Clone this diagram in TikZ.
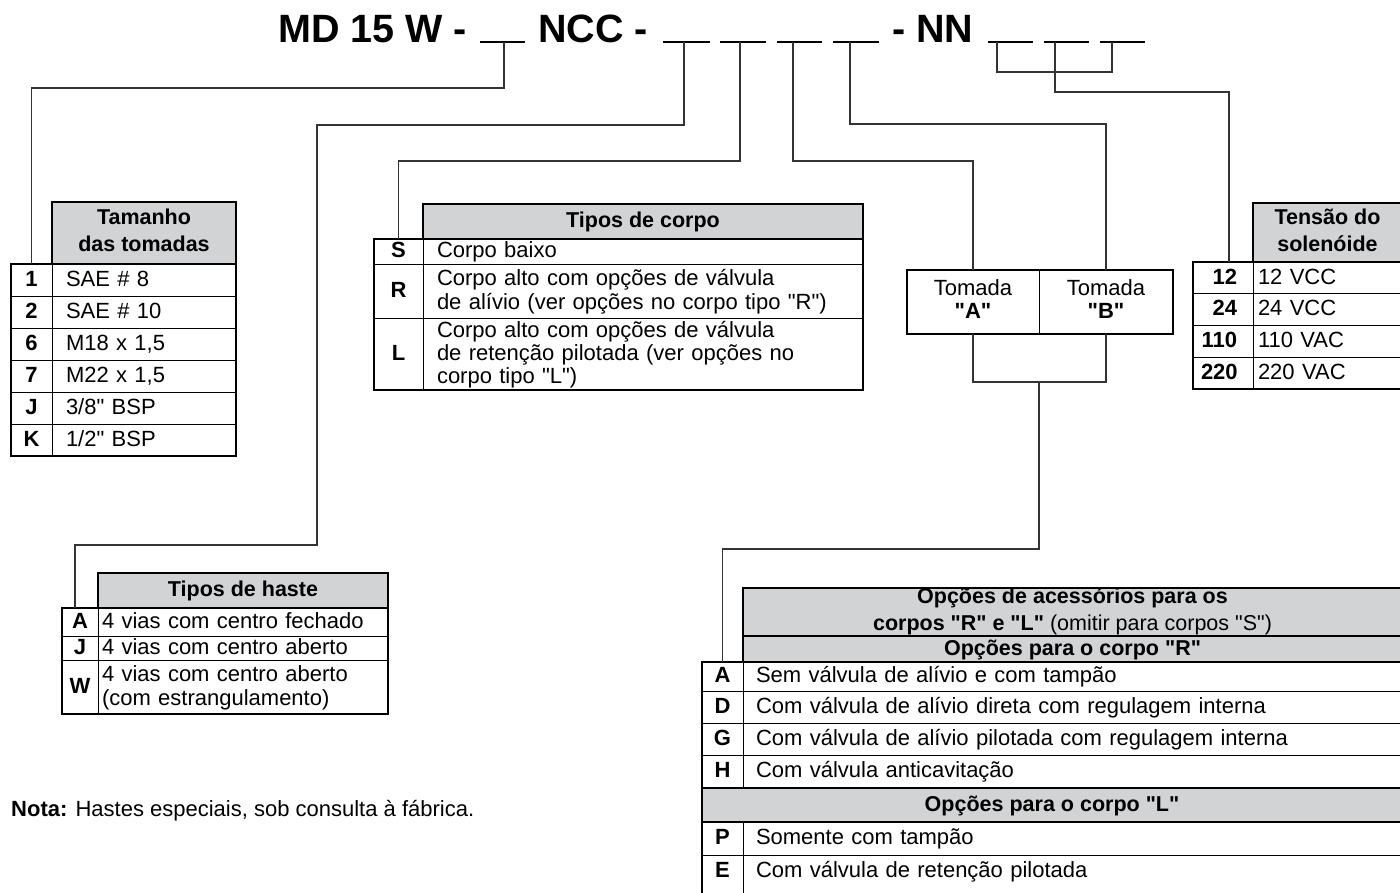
\documentclass[tikz,border=0pt]{standalone}
\usepackage{fontspec}
\setmainfont{Liberation Sans}
\definecolor{tabgray}{RGB}{210,211,213}
\newcommand{\bodyfont}{\fontsize{22}{23}\selectfont}
\newcommand{\headfont}{\fontsize{21.5}{27}\selectfont\bfseries}
\newcommand{\titlefont}{\fontsize{39.5}{44}\selectfont\bfseries}
\newcommand{\dq}{\textquotedbl}
\newcommand{\cellstrut}{\rule[-5.5pt]{0pt}{23.5pt}}
\def\padx{14pt}
% one table row: name, x left, x divider, x right, y top, y bottom, key, text
\newcommand{\tabrow}[8]{%
  \node[keycell, minimum width=#3pt-#2pt, minimum height=#6pt-#5pt] (#1k) at (#2,#5) {#7};
  \node[desccell, minimum width=#4pt-#3pt, minimum height=#6pt-#5pt,
        text width=#4pt-#3pt-2*\padx] (#1d) at (#3,#5) {#8};}
% grey header cell: name, x left, x right, y top, y bottom, text
\newcommand{\tabhead}[6]{%
  \node[headcell, minimum width=#3pt-#2pt, minimum height=#5pt-#4pt] (#1) at (#2,#4) {#6};}

\begin{document}
\begin{tikzpicture}[x=1pt, y=-1pt,
    conn/.style={draw=black!80, line width=1.1pt},
    blank/.style={line width=1.8pt},
    cell/.style={draw, line width=1pt, inner sep=0pt, outer sep=0pt, anchor=north west,
                 execute at begin node=\cellstrut, execute at end node=\cellstrut},
    keycell/.style={cell, font=\bodyfont\bfseries},
    desccell/.style={cell, font=\bodyfont, align=left, inner xsep=\padx},
    headcell/.style={cell, line width=2pt, fill=tabgray, font=\headfont, align=center},
    frame/.style={line width=2pt},
    titletext/.style={font=\titlefont, inner sep=0pt, anchor=base west}]
    \fill[white] (0,0) rectangle (1400,892);
    \useasboundingbox (0,0) rectangle (1400,892);

    % Codigo
    \node[titletext] (t1) at (278,42) {MD 15 W -};
    \node[titletext] (t2) at (538,42) {NCC -};
    \node[titletext] (t3) at (892,42) {- NN};
    \foreach \a/\b/\c [count=\i] in {480/525/504, 663/710/684, 720/766/740, 777/822/793,
                                     833/879/850, 988/1033/997, 1044/1089/1055, 1100/1145/1112}
      {\draw[blank] (\a,42) -- (\b,42);
       \coordinate (u\i) at (\c,42);}

    % Tamanho das tomadas
    \tabhead{tamh}{52}{236}{202}{264}{Tamanho\\das tomadas}
    \foreach \k/\t [count=\i] in {1/{SAE \# 8}, 2/{SAE \# 10}, 6/{M18 x 1,5},
                                  7/{M22 x 1,5}, J/{3/8\dq{} BSP}, K/{1/2\dq{} BSP}}
      {\pgfmathsetmacro\yt{264+32*(\i-1)}
       \pgfmathsetmacro\yb{\yt+32}
       \tabrow{tam\i}{11}{52}{236}{\yt}{\yb}{\k}{\t}}
    \draw[frame] (tam1k.north west) rectangle (tam6d.south east);

    % Tipos de corpo
    \tabhead{corh}{423}{863}{204}{239}{Tipos de corpo}
    \tabrow{corS}{374}{423}{863}{239}{264}{S}{Corpo baixo}
    \tabrow{corR}{374}{423}{863}{264}{318}{R}{Corpo alto com opções de válvula\\de alívio (ver opções no corpo tipo \dq R\dq)}
    \tabrow{corL}{374}{423}{863}{318}{390}{L}{Corpo alto com opções de válvula\\de retenção pilotada (ver opções no\\corpo tipo \dq L\dq)}
    \draw[frame] (corSk.north west) rectangle (corLd.south east);

    % Tomadas A e B
    \node[cell, font=\bodyfont, align=center, minimum width=132pt, minimum height=64pt] (tomA) at (907,270) {Tomada\\\textbf{\dq A\dq}};
    \node[cell, font=\bodyfont, align=center, minimum width=134pt, minimum height=64pt] (tomB) at (1039,270) {Tomada\\\textbf{\dq B\dq}};
    \draw[frame] (tomA.north west) rectangle (tomB.south east);

    % Tensao do solenoide
    \tabhead{tenh}{1253}{1402}{203}{262}{Tensão do\\solenóide}
    \begin{scope}[keycell/.append style={text width=44pt, align=right}]
    \def\padx{5pt}
    \foreach \k/\t [count=\i] in {12/12 VCC, 24/24 VCC, 110/110 VAC, 220/220 VAC}
      {\pgfmathsetmacro\yt{262+31.8*(\i-1)}
       \pgfmathsetmacro\yb{\yt+31.8}
       \tabrow{ten\i}{1193}{1253}{1402}{\yt}{\yb}{\k\kern8pt}{\t}}
    \end{scope}
    \draw[frame] (ten1k.north west) rectangle (ten4d.south east);

    % Tipos de haste
    \tabhead{hash}{98}{388}{573}{608}{Tipos de haste}
    \begin{scope}
    \def\padx{4pt}
    \tabrow{hasA}{62}{98}{388}{608}{636}{A}{4 vias com centro fechado}
    \tabrow{hasJ}{62}{98}{388}{636}{660}{J}{4 vias com centro aberto}
    \tabrow{hasW}{62}{98}{388}{660}{714}{W}{4 vias com centro aberto\\(com estrangulamento)}
    \end{scope}
    \draw[frame] (hasAk.north west) rectangle (hasWd.south east);

    % Opcoes de acessorios
    \begin{scope}
    \def\padx{13pt}
    \tabhead{acch1}{743}{1402}{588}{636}{\fontsize{21.5}{22}\selectfont Opções de acessórios para os\\corpos \dq R\dq{} e \dq L\dq{} {\mdseries(omitir para corpos \dq S\dq)}}
    \tabhead{acch2}{743}{1402}{636}{662}{Opções para o corpo \dq R\dq}
    \tabrow{accA}{702}{743}{1402}{662}{691}{A}{Sem válvula de alívio e com tampão}
    \tabrow{accD}{702}{743}{1402}{691}{723}{D}{Com válvula de alívio direta com regulagem interna}
    \tabrow{accG}{702}{743}{1402}{723}{755}{G}{Com válvula de alívio pilotada com regulagem interna}
    \tabrow{accH}{702}{743}{1402}{755}{788}{H}{Com válvula anticavitação}
    \tabhead{acchL}{702}{1402}{788}{822}{Opções para o corpo \dq L\dq}
    \tabrow{accP}{702}{743}{1402}{822}{855}{P}{Somente com tampão}
    \begin{scope}[cell/.append style={draw=none}]
    \tabrow{accE}{702}{743}{1402}{855}{887}{E}{Com válvula de retenção pilotada}
    \end{scope}
    \end{scope}
    \draw[line width=1pt] (accEk.north east) -- ++(0,40);
    \draw[frame] (accAk.north west) rectangle (1402,900);

    % Ligacoes
    \draw[conn] (u1) -- ++(0,46) -| (tam1k.north);
    \draw[conn] (u2) -- ++(0,83) -- ++(-367,0) -- ++(0,420) -| ([xshift=13pt]hasAk.north west);
    \draw[conn] (u3) -- ++(0,119) -| (corSk.north);
    \draw[conn] (u4) -- ++(0,119) -| (tomA.north);
    \draw[conn] (u5) -- ++(0,82) -| (tomB.north);
    \draw[conn] (u6) -- ++(0,30) -| (u8);
    \draw[conn] (u7) -- ++(0,50) -| ([xshift=6pt]ten1k.north);
    \draw[conn] (tomA.south) -- ++(0,48) -| (tomB.south);
    \draw[conn] ([yshift=-48pt]tomA.south east) -- ++(0,167) -| (accAk.north);

    % Nota
    \node[anchor=base west, font=\bodyfont, inner sep=0pt] (nota) at (11,816) {\textbf{Nota:} Hastes especiais, sob consulta à fábrica.};
\end{tikzpicture}
\end{document}
